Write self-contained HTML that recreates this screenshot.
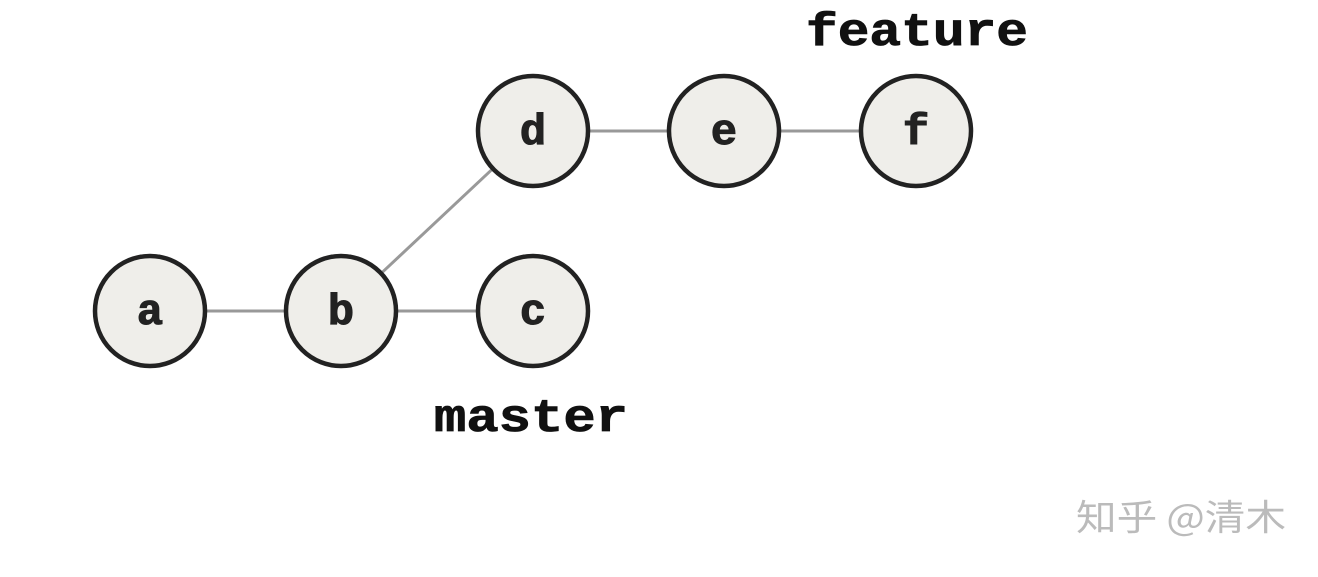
<!DOCTYPE html>
<html><head><meta charset="utf-8"><style>html,body{margin:0;padding:0;background:#fff}</style></head>
<body>
<svg width="1318" height="572" viewBox="0 0 1318 572" xmlns="http://www.w3.org/2000/svg">
<g stroke="#999" stroke-width="3">
<line x1="150" y1="311" x2="341" y2="311"/>
<line x1="341" y1="311" x2="533" y2="311"/>
<line x1="341" y1="311" x2="533" y2="131"/>
<line x1="533" y1="131" x2="916" y2="131"/>
</g>
<g fill="#efeeea" stroke="#222" stroke-width="4.5">
<circle cx="150" cy="311" r="55"/>
<circle cx="341" cy="311" r="55"/>
<circle cx="533" cy="311" r="55"/>
<circle cx="533" cy="131" r="55"/>
<circle cx="724" cy="131" r="55"/>
<circle cx="916" cy="131" r="55"/>
</g>
<g font-family="Liberation Mono, monospace" font-weight="bold" font-size="44" fill="#222" stroke="#222" stroke-width="1" text-anchor="middle">
<text x="150" y="324">a</text>
<text x="341" y="324">b</text>
<text x="533" y="324">c</text>
<text x="533" y="144">d</text>
<text x="724" y="144">e</text>
<text x="916" y="144">f</text>
</g>
<g font-family="Liberation Mono, monospace" font-weight="bold" font-size="46" fill="#111" stroke="#111" stroke-width="0.8">
<text x="806" y="45" textLength="222" lengthAdjust="spacingAndGlyphs">feature</text>
<text x="434" y="431" textLength="194" lengthAdjust="spacingAndGlyphs">master</text>
</g>
<text x="1076" y="530" font-family="Noto Sans CJK SC, sans-serif" font-size="36" fill="#bbb" textLength="210" lengthAdjust="spacingAndGlyphs">知乎 @清木</text>
</svg>
</body></html>
